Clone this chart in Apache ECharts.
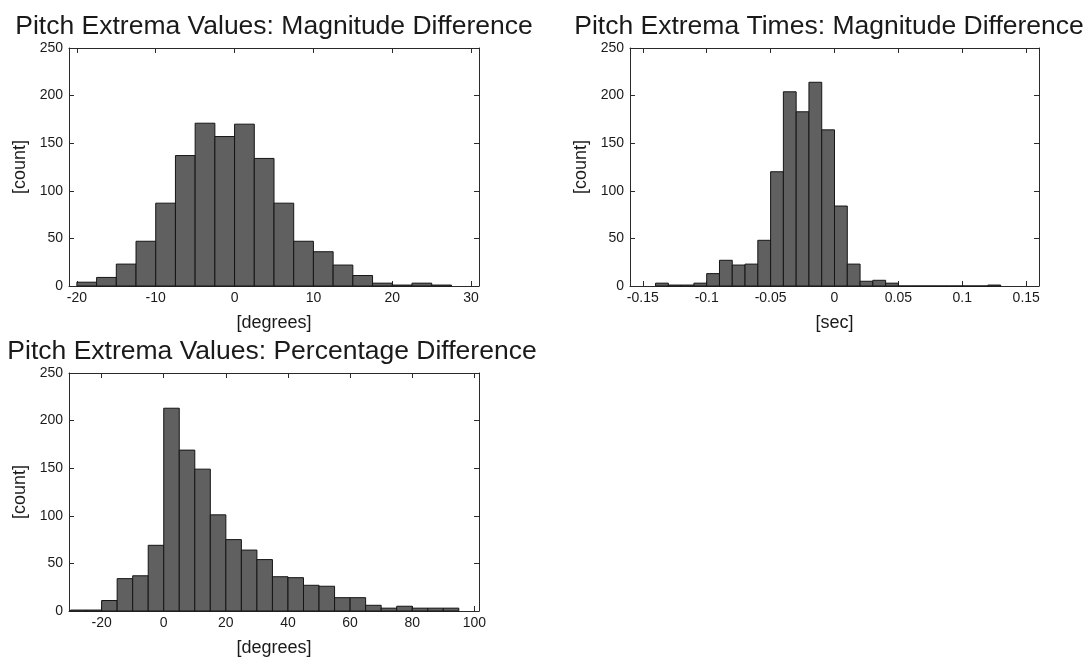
<!DOCTYPE html>
<html>
<head>
<meta charset="utf-8">
<script src="https://cdn.jsdelivr.net/npm/echarts@6/dist/echarts.min.js"></script>
<style>
html,body{margin:0;padding:0;background:#fff;}
#chart{width:1092px;height:663px;}
</style>
</head>
<body>
<div id="chart"></div>
<script>
// ---- Data ----
const titles = [
  'Pitch Extrema Values: Magnitude Difference',
  'Pitch Extrema Times: Magnitude Difference',
  'Pitch Extrema Values: Percentage Difference'
];
const xNames = ['[degrees]', '[sec]', '[degrees]'];
const yName = '[count]';

// Chart 1: Pitch Extrema Values: Magnitude Difference
const edges1 = [-20, -17.5, -15, -12.5, -10, -7.5, -5, -2.5, 0, 2.5, 5, 7.5, 10, 12.5, 15, 17.5, 20, 22.5, 25, 27.5];
const counts1 = [4, 9, 23, 47, 87, 137, 171, 157, 170, 134, 87, 47, 36, 22, 11, 3, 1, 3, 1];
const xTicks1 = [-20, -10, 0, 10, 20, 30];

// Chart 2: Pitch Extrema Times: Magnitude Difference
const edges2 = [-0.14, -0.13, -0.12, -0.11, -0.10, -0.09, -0.08, -0.07, -0.06, -0.05, -0.04, -0.03, -0.02, -0.01, 0, 0.01, 0.02, 0.03, 0.04, 0.05, 0.06, 0.07, 0.08, 0.09, 0.10, 0.11, 0.12, 0.13];
const counts2 = [3, 1, 1, 3, 13, 27, 22, 23, 48, 120, 204, 183, 214, 164, 84, 23, 5, 6, 3, 0, 0, 0, 0, 0, 0, 0, 1];
const xTicks2 = [-0.15, -0.1, -0.05, 0, 0.05, 0.1, 0.15];

// Chart 3: Pitch Extrema Values: Percentage Difference
const edges3 = [-30, -25, -20, -15, -10, -5, 0, 5, 10, 15, 20, 25, 30, 35, 40, 45, 50, 55, 60, 65, 70, 75, 80, 85, 90, 95];
const counts3 = [1, 1, 11, 34, 37, 69, 213, 169, 149, 101, 75, 64, 54, 36, 35, 27, 26, 14, 14, 6, 3, 5, 3, 3, 3];
const xTicks3 = [-20, 0, 20, 40, 60, 80, 100];

const yTicks = [0, 50, 100, 150, 200, 250];

// ---- Layout ----
const grids = [
  {left: 69, top: 48, width: 410, height: 238, xmin: -21, xmax: 31},
  {left: 630, top: 48, width: 409, height: 238, xmin: -0.16, xmax: 0.16},
  {left: 69, top: 373, width: 410, height: 238, xmin: -30.5, xmax: 101.5}
];
const titleCenters = [274, 829, 272];
const titleTops = [8, 8, 333];
const FONT = "'Liberation Sans', Arial, sans-serif";
const INK = '#1a1a1a';
const AX = '#2a2a2a';

const sets = [
  {edges: edges1, counts: counts1, ticks: xTicks1},
  {edges: edges2, counts: counts2, ticks: xTicks2},
  {edges: edges3, counts: counts3, ticks: xTicks3}
];

const option = {
  backgroundColor: '#ffffff',
  animation: false,
  title: [], grid: [], xAxis: [], yAxis: [], series: []
};

sets.forEach((s, i) => {
  const g = grids[i];
  option.title.push({
    text: titles[i],
    left: titleCenters[i] - 5,
    top: titleTops[i],
    textAlign: 'center',
    textStyle: {fontFamily: FONT, fontSize: 26.5, fontWeight: 'normal', color: INK}
  });
  option.grid.push({left: g.left, top: g.top, width: g.width, height: g.height, containLabel: false});
  const axisLineStyle = {show: true, onZero: false, lineStyle: {color: AX, width: 1}};
  const tickStyle = {show: true, inside: true, length: 5, lineStyle: {color: AX}};
  // bottom x axis
  option.xAxis.push({
    type: 'value', gridIndex: i, position: 'bottom', min: g.xmin, max: g.xmax,
    axisLine: axisLineStyle,
    axisTick: Object.assign({customValues: s.ticks}, tickStyle),
    axisLabel: {show: true, margin: 5, fontFamily: FONT, fontSize: 14, color: INK, customValues: s.ticks},
    splitLine: {show: false},
    name: xNames[i], nameLocation: 'middle', nameGap: 28,
    nameTextStyle: {fontFamily: FONT, fontSize: 18, color: INK, verticalAlign: 'top'}
  });
  // top x axis (ticks only)
  option.xAxis.push({
    type: 'value', gridIndex: i, position: 'top', min: g.xmin, max: g.xmax,
    axisLine: axisLineStyle,
    axisTick: Object.assign({customValues: s.ticks}, tickStyle),
    axisLabel: {show: false, customValues: s.ticks}, splitLine: {show: false}
  });
  // left y axis
  option.yAxis.push({
    type: 'value', gridIndex: i, position: 'left', min: 0, max: 250,
    axisLine: axisLineStyle,
    axisTick: Object.assign({customValues: yTicks}, tickStyle),
    axisLabel: {show: true, margin: 6, fontFamily: FONT, fontSize: 14, color: INK, customValues: yTicks},
    splitLine: {show: false},
    name: yName, nameLocation: 'middle', nameGap: 40, nameRotate: 90,
    nameTextStyle: {fontFamily: FONT, fontSize: 18, color: INK}
  });
  // right y axis (ticks only)
  option.yAxis.push({
    type: 'value', gridIndex: i, position: 'right', min: 0, max: 250,
    axisLine: axisLineStyle,
    axisTick: Object.assign({customValues: yTicks}, tickStyle),
    axisLabel: {show: false, customValues: yTicks}, splitLine: {show: false}
  });
  const data = s.counts.map((c, k) => [s.edges[k], s.edges[k + 1], c]);
  option.series.push({
    type: 'custom',
    xAxisIndex: i * 2, yAxisIndex: i * 2,
    data: data,
    encode: {x: [0, 1], y: 2},
    z: 1,
    renderItem: function (params, api) {
      const p0 = api.coord([api.value(0), api.value(2)]);
      const p1 = api.coord([api.value(1), 0]);
      return {
        type: 'rect',
        shape: {x: p0[0], y: p0[1], width: p1[0] - p0[0], height: p1[1] - p0[1]},
        style: {fill: '#606060', stroke: '#151515', lineWidth: 1}
      };
    }
  });
});

const chart = echarts.init(document.getElementById('chart'), null, {renderer: 'canvas'});
chart.setOption(option);
</script>
</body>
</html>
